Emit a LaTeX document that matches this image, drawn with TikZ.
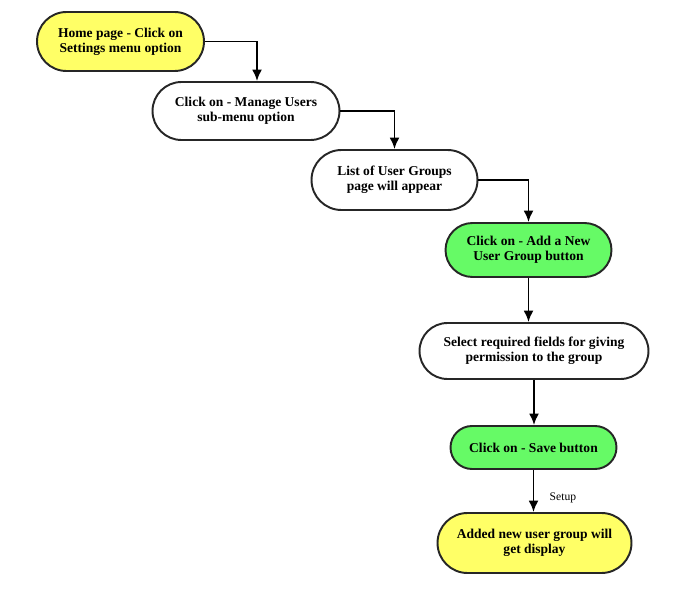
\documentclass[tikz,border=0pt]{standalone}
\usepackage{fontspec}
\setmainfont{Liberation Serif}
\usepackage{tikz}
\usetikzlibrary{shapes.misc,arrows.meta}
\usepackage{xcolor}
\definecolor{stepyellow}{RGB}{255,255,102}
\definecolor{stepgreen}{RGB}{102,250,102}

\begin{document}
\begin{tikzpicture}[>={Latex[length=2.3mm,width=2mm]}, stepbox/.style={rounded rectangle, draw=black!85, line width=1.1pt, fill=white, align=center, inner sep=2pt, font=\fontsize{7.7}{8.4}\selectfont\bfseries}]
		\tikzstyle{link}=[->, line width=1.1pt, draw=black]
		\tikzstyle{annot}=[font=\fontsize{6.6}{8}\selectfont, anchor=west]
		\useasboundingbox (0,0) rectangle (13.56,12);

		% Draw boxes
		\node[stepbox,fill=stepyellow,minimum width=3.48cm,minimum height=1.18cm] (home) at (2.41,11.17) {Home page - Click on \\ Settings menu option};
		\node[stepbox,minimum width=3.88cm,minimum height=1.16cm] (manage) at (4.92,9.78) {Click on - Manage Users \\ sub-menu option};
		\node[stepbox,minimum width=3.46cm,minimum height=1.2cm] (list) at (7.89,8.40) {List of User Groups \\ page will appear};
		\node[stepbox,fill=stepgreen,minimum width=3.46cm,minimum height=1.08cm] (addgroup) at (10.57,7.00) {Click on - Add a New \\ User Group button};
		\node[stepbox,minimum width=4.72cm,minimum height=1.12cm] (select) at (10.68,4.98) {Select required fields for giving \\ permission to the group};
		\node[stepbox,fill=stepgreen,minimum width=3.46cm,minimum height=0.86cm] (save) at (10.67,3.05) {Click on - Save button};
		\node[stepbox,fill=stepyellow,minimum width=4.02cm,minimum height=1.2cm] (added) at (10.69,1.14) {Added new user group will \\ get display};

		% Draw arrows
		\draw[link] (home.east) -| ([xshift=0.22cm]manage.north);
		\draw[link] (manage.east) -| (list.north);
		\draw[link] (list.east) -| (addgroup.north);
		\draw[link] (addgroup.south) -- (addgroup.south |- select.north);
		\draw[link] (select.south) -- (select.south |- save.north);
		\draw[link] (save.south) -- (save.south |- added.north);

		\node[annot] (setup) at (10.87,2.04) {Setup};
		\end{tikzpicture}
\end{document}
